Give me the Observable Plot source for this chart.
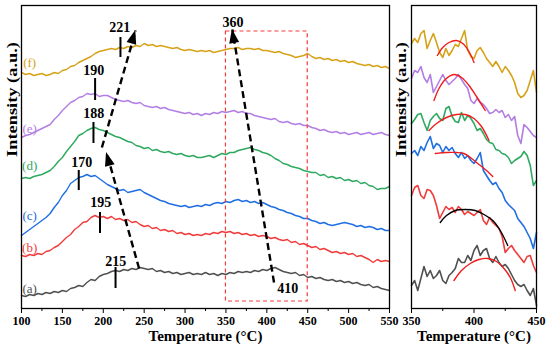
<!DOCTYPE html>
<html><head><meta charset="utf-8">
<script src="https://cdn.jsdelivr.net/npm/d3@7"></script>
<script src="https://cdn.jsdelivr.net/npm/@observablehq/plot@0.6"></script>
<style>
body{margin:0;background:#fff;}
#wrap{position:relative;width:550px;height:351px;overflow:hidden;background:#fff;}
#left,#right{position:absolute;top:0;}
#left{left:0}
#right{left:392px}
svg{overflow:visible}
</style></head><body><div id="wrap"><div id="left"></div><div id="right"></div></div>
<script>
// ---------- data ----------
const seriesNames = ["(a)","(b)","(c)","(d)","(e)","(f)"];
const seriesColors = ["#505050","#f03c3c","#1f6fe2","#2ea960","#b37ee4","#d6a218"];

// main panel: intensity (a.u.) sampled every 5 °C from 100 to 550
const mainA = [13,12,14,13,15,14,16,15,17,16, 18,17,20,21,23,22,26,29,28,32, 34,35,37,38,37,39,38,40,39,41, 40,39,40,37,38,36,37,35,36,34, 35,36,34,35,34,36,34,35,33,35, 34,36,35,37,36,37,36,38,37,39, 38,40,41,39,37,36,35,36,33,34, 31,32,30,31,29,28,29,27,28,26, 27,25,26,24,23,24,21,22,20,19, 18];
const mainB = [53,52,54,53,55,54,57,58,61,63, 67,71,74,79,82,86,87,91,93,91, 92,90,92,89,90,88,89,86,87,84, 82,83,80,81,78,79,77,78,75,76, 74,75,73,74,73,75,74,76,75,77, 76,77,75,76,74,75,73,74,72,73, 72,70,71,69,68,69,66,67,64,65, 63,61,62,59,60,58,56,57,55,56, 54,55,52,53,51,49,46,49,47,48, 47];
const mainC = [73,76,79,82,85,88,91,95,101,106, 113,118,125,128,131,132,134,132,133,130, 127,124,122,120,118,119,116,117,118,119, 116,114,112,110,108,107,105,104,103,102, 103,101,102,103,102,104,103,105,106,105, 107,106,108,109,107,108,106,107,105,106, 104,102,101,99,98,96,95,93,92,90, 90,88,87,85,86,84,83,84,85,86, 85,84,82,83,81,82,81,79,80,78, 78];
const mainD = [130,131,130,132,133,134,136,138,142,147, 151,157,162,167,173,175,178,180,181,179, 178,176,174,172,171,169,167,166,163,162, 160,161,158,159,157,156,157,155,154,155, 153,152,153,151,151,152,153,151,153,155, 154,156,156,158,159,160,161,159,158,156, 155,153,150,148,145,144,142,141,140,138, 137,136,136,133,134,131,132,130,131,128, 129,127,128,125,126,123,122,119,120,120, 122];
const mainE = [171,173,174,176,178,180,182,184,189,193, 198,202,206,208,211,212,215,214,215,212, 213,213,211,209,208,207,208,206,205,206, 203,202,201,202,200,201,199,198,197,196, 195,196,194,195,193,195,194,196,195,197, 196,197,198,196,197,195,195,193,192,191, 190,189,190,187,186,187,185,184,185,183, 183,181,180,178,179,177,176,177,175,176, 174,175,176,174,175,176,174,175,176,174, 173];
const mainF = [236,234,235,233,234,235,233,234,236,235, 238,239,242,243,246,248,250,252,255,257, 258,259,260,259,261,260,262,261,263,262, 265,263,264,262,263,262,261,260,261,259, 258,259,258,257,258,257,258,256,257,258, 259,260,260,261,259,260,260,259,260,258, 258,257,256,257,255,254,253,251,252,253, 255,252,250,251,249,250,248,249,247,248, 246,247,245,244,243,244,242,243,241,242, 240];

// zoomed panel: intensity sampled every 2.5 °C from 350 to 450
const zoomA = [23,28,18,30,42,32,38,30,33,38, 28,25,33,36,40,50,46,46,53,48, 58,63,53,58,60,50,46,52,46,42, 44,40,34,28,24,22,24,18,13,20, 3];
const zoomB = [113,121,123,113,110,119,118,113,103,90, 96,102,99,101,96,102,99,94,97,95, 93,96,99,88,84,91,86,83,80,72, 56,60,63,58,54,50,46,52,53,43, 36];
const zoomC = [155,158,153,162,158,166,172,160,165,163, 156,162,158,161,155,151,156,150,153,148, 145,150,156,138,133,128,124,126,120,116, 108,104,101,98,90,86,82,76,70,60, 76];
const zoomD = [185,189,194,195,186,178,188,192,195,190, 188,200,202,192,187,186,196,188,193,190, 185,178,180,175,169,166,165,159,158,155, 154,151,145,148,150,152,157,153,143,123, 128];
const zoomE = [230,238,236,242,231,226,234,216,222,228, 234,228,224,227,230,234,229,224,220,208, 205,210,206,204,200,195,196,199,196,198, 191,194,188,192,173,165,184,181,177,173, 171];
const zoomF = [265,270,266,275,278,260,268,275,266,256, 251,260,253,258,264,262,270,278,258,252, 250,258,261,256,250,246,242,247,242,236, 242,238,233,226,215,211,213,218,228,238, 216];

// fitted arcs on the zoomed panel
const fitSeries = ["(a)","(b)","(c)","(d)","(e)","(f)"];
const fitColors = ["#ee1c1c","#000000","#ee1c1c","#ee1c1c","#ee1c1c","#ee1c1c"];
const fitT = [
  [384,390,397,404,411,418,424,429,433],
  [373,378,385,393,401,408,415,421,427],
  [369,378,386,392,398,404,410,415],
  [364,370,378,386,393,400,406,412],
  [368,372,377,384,390,396,402,409],
  [370.7,375,380,386,391,396,400]
];
const fitV = [
  [28,38,45,49,50,47,40,31,18],
  [86,93,98,99,98,94,88,78,63],
  [155,156,156,155,150,144,138,132],
  [178,185,191,194,194,190,182,168],
  [208,220,229,234,231,223,212,198],
  [253,261,266,268,265,257,246]
];

// peak markers
const peakT = [215,196,170,188,190,221];
const peakY1 = [20,75,118,165,208,251];
const peakY2 = [41,96,138,186,230,271];
const peakLabels = ["215","195","170","188","190","221"];
const peakLabelT = [215.4,197,173.8,188.4,188.4,220.2];
const peakLabelY = [47,106,146,195,238,281];
const boxLabels = ["360","410"];
const boxLabelT = [358.6,425.5];
const boxLabelY = [286,20];

// arrows
const arrowX1 = [243.8,198.3,408.8];
const arrowY1 = [40,161,26];
const arrowX2 = [204,239.7,357.9];
const arrowY2 = [156,278,279];

// dashed box
const boxT = [350,450];
const boxY = [7,277];

// series tags
const tagT = 110;
const tagY = [20,61,93,143,180,246];

const mainTicks = [100,150,200,250,300,350,400,450,500,550];
const mainMinor = [125,175,225,275,325,375,425,475,525];
const zoomTicks = [350,400,450];
const zoomMinor = [375,425];
const xTitle = "Temperature (°C)";
const yTitle = "Intensity (a.u.)";

// ---------- build tables ----------
const mainTemps = d3.range(100, 551, 5);
const zoomTemps = d3.range(350, 450.01, 2.5);
const mainSeries = [mainA,mainB,mainC,mainD,mainE,mainF];
const zoomSeries = [zoomA,zoomB,zoomC,zoomD,zoomE,zoomF];
const mainRows = mainSeries.flatMap((arr,k)=>arr.map((v,i)=>({t:mainTemps[i], v, s:seriesNames[k]})));
const zoomRows = zoomSeries.flatMap((arr,k)=>arr.map((v,i)=>({t:zoomTemps[i], v, s:seriesNames[k]})));
const fitRows = fitT.flatMap((arr,k)=>arr.map((t,i)=>({t, v:fitV[k][i], s:fitSeries[k], c:fitColors[k]})));
const peaks = peakT.map((t,i)=>({t, y1:peakY1[i], y2:peakY2[i], label:peakLabels[i], lt:peakLabelT[i], ly:peakLabelY[i]}));
const boxL = boxLabels.map((l,i)=>({label:l, t:boxLabelT[i], y:boxLabelY[i]}));
const arrows = arrowX1.map((x1,i)=>({x1, y1:arrowY1[i], x2:arrowX2[i], y2:arrowY2[i]}));
const tags = seriesNames.map((s,i)=>({s, t:tagT, y:tagY[i]}));

const FONT = "Liberation Serif, Times New Roman, serif";
const baseStyle = {fontFamily: FONT, fontSize: "12px", fontWeight: "bold", background: "transparent", overflow: "visible", color: "black"};
const colorScale = {domain: seriesNames, range: seriesColors};

// ---------- left plot ----------
const left = Plot.plot({
  width: 400, height: 351,
  marginTop: 5, marginBottom: 43, marginLeft: 21, marginRight: 11,
  style: baseStyle,
  x: {domain: [100, 550], label: null},
  y: {domain: [0, 303], axis: null, label: null},
  color: colorScale,
  marks: [
    Plot.line(mainRows, {x: "t", y: "v", z: "s", stroke: "s", strokeWidth: 1.4}),
    Plot.rect([0], {x1: () => boxT[0], x2: () => boxT[1], y1: () => boxY[0], y2: () => boxY[1], fill: "none", stroke: "#f53a3a", strokeWidth: 1.2, strokeDasharray: "4,3"}),
    Plot.ruleX(peaks, {x: "t", y1: "y1", y2: "y2", stroke: "black", strokeWidth: 2}),
    Plot.text(peaks, {x: "lt", y: "ly", text: "label", fontSize: 14, fontWeight: "bold", fill: "black"}),
    Plot.text(boxL, {x: "t", y: "y", text: "label", fontSize: 14, fontWeight: "bold", fill: "black"}),
    Plot.link(arrows, {x1: "x1", y1: "y1", x2: "x2", y2: "y2", stroke: "black", strokeWidth: 2.4, strokeDasharray: "7,4"}),
    Plot.text(tags, {x: "t", y: "y", text: "s", fill: "s", fontSize: 13, fontWeight: "normal"}),
    Plot.frame({stroke: "black", strokeWidth: 1.3}),
    Plot.axisX({ticks: mainTicks, tickSize: 5, tickPadding: 3, fontSize: 12, fontWeight: "bold", label: null}),
    Plot.axisX({ticks: mainMinor, tickSize: 3, text: null, label: null}),
    Plot.text([xTitle], {frameAnchor: "bottom", dy: 32, fontSize: 15, fontWeight: "bold", fill: "black"}),
    Plot.text([yTitle], {frameAnchor: "left", dx: -9, rotate: -90, fontSize: 15, fontWeight: "bold", fill: "black"})
  ]
});
document.getElementById("left").appendChild(left);

// arrowheads drawn through the plot's own scales
{
  const xs = left.scale("x"), ys = left.scale("y");
  const svg = d3.select(left);
  for (const a of arrows) {
    const x1 = xs.apply(a.x1), y1 = ys.apply(a.y1), x2 = xs.apply(a.x2), y2 = ys.apply(a.y2);
    const ang = Math.atan2(y2 - y1, x2 - x1);
    const L = 14, W = 5;
    const bx = x2 - L * Math.cos(ang), by = y2 - L * Math.sin(ang);
    const px = -Math.sin(ang) * W, py = Math.cos(ang) * W;
    svg.append("path").attr("d", `M${x2},${y2}L${bx+px},${by+py}L${bx-px},${by-py}Z`).attr("fill", "black");
  }
}

// ---------- right plot ----------
const right = Plot.plot({
  width: 158, height: 351,
  marginTop: 5, marginBottom: 43, marginLeft: 19, marginRight: 14,
  style: baseStyle,
  x: {domain: [350, 450], label: null},
  y: {domain: [0, 303], axis: null, label: null},
  color: colorScale,
  marks: [
    Plot.line(zoomRows, {x: "t", y: "v", z: "s", stroke: "s", strokeWidth: 1.6}),
    Plot.line(fitRows, {x: "t", y: "v", z: "s", stroke: d => d.c, strokeWidth: 1.4, curve: "catmull-rom"}),
    Plot.frame({stroke: "black", strokeWidth: 1.3}),
    Plot.axisX({ticks: zoomTicks, tickSize: 5, tickPadding: 3, fontSize: 12, fontWeight: "bold", label: null}),
    Plot.axisX({ticks: zoomMinor, tickSize: 3, text: null, label: null}),
    Plot.text([xTitle], {frameAnchor: "bottom", dy: 32, fontSize: 15, fontWeight: "bold", fill: "black"}),
    Plot.text([yTitle], {frameAnchor: "left", dx: -10, rotate: -90, fontSize: 15, fontWeight: "bold", fill: "black"})
  ]
});
document.getElementById("right").appendChild(right);

// stretch rotated titles to the reference length
for (const p of [left, right]) {
  d3.select(p).selectAll("text").filter(function() { return this.textContent === yTitle; })
    .attr("textLength", 115).attr("lengthAdjust", "spacingAndGlyphs");
}
</script>
</body></html>
